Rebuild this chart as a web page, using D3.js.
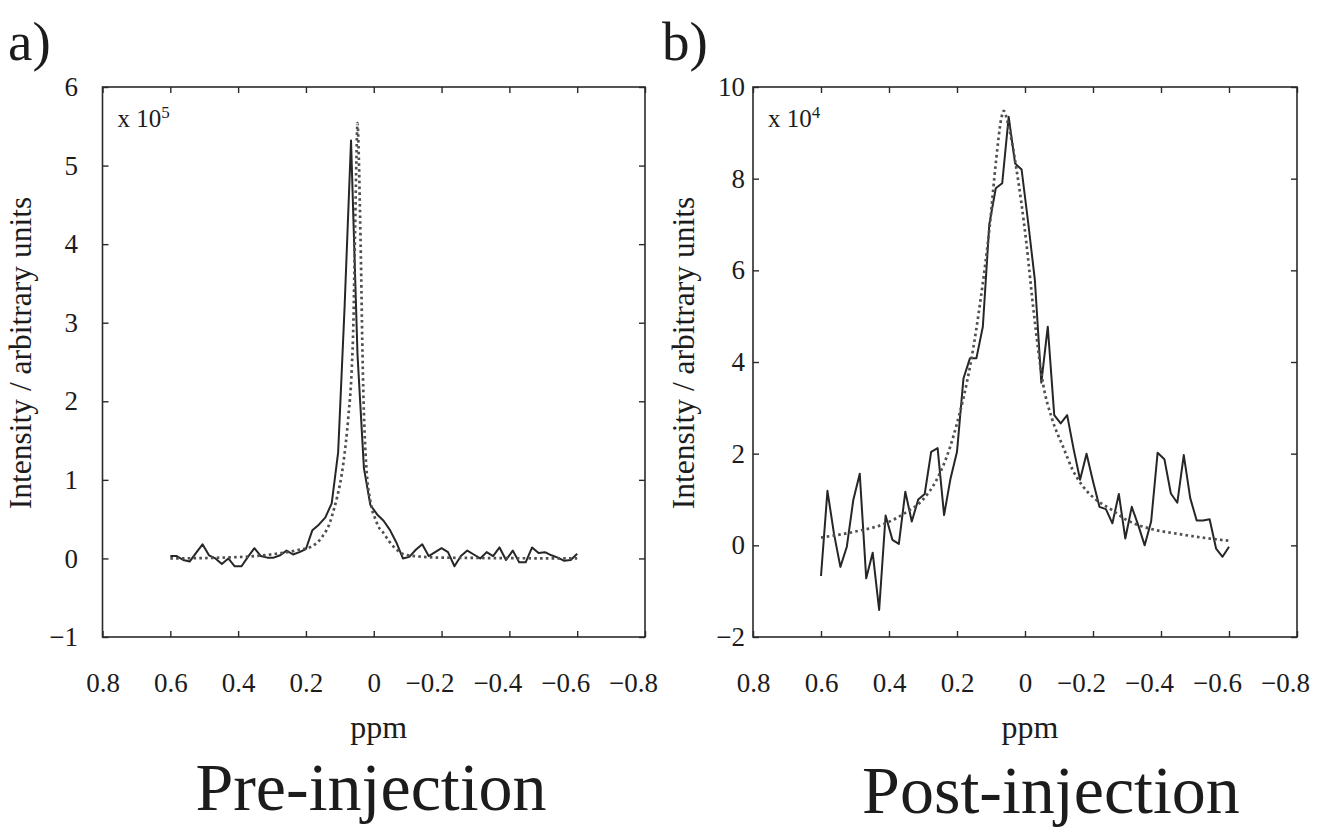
<!DOCTYPE html>
<html><head><meta charset="utf-8">
<script src="https://cdn.jsdelivr.net/npm/d3@7"></script>
<style>
body{margin:0;background:#fff;}
text{font-family:"Liberation Serif","Times New Roman",serif;fill:#1c1c1c;}
</style>
</head><body>
<svg id="chart" width="1317" height="831"></svg>
<script>
// ---------- data ----------
const ppm = [0.600,0.581,0.562,0.543,0.524,0.505,0.486,0.467,0.448,0.429,0.410,0.390,0.371,0.352,0.333,0.314,
  0.295,0.276,0.257,0.238,0.219,0.200,0.181,0.162,0.143,0.124,0.105,0.086,0.067,0.048,0.029,0.010,
  -0.010,-0.029,-0.048,-0.067,-0.086,-0.105,-0.124,-0.143,-0.162,-0.181,-0.200,-0.219,-0.238,-0.257,-0.276,-0.295,
  -0.314,-0.333,-0.352,-0.371,-0.390,-0.410,-0.429,-0.448,-0.467,-0.486,-0.505,-0.524,-0.543,-0.562,-0.581,-0.600];

const preIntensity = [0.03,0.03,-0.02,-0.04,0.07,0.18,0.04,0.00,-0.07,0.00,-0.10,-0.10,0.02,0.13,0.03,0.01,
  0.01,0.04,0.10,0.05,0.08,0.12,0.36,0.43,0.52,0.70,1.35,3.20,5.32,2.60,1.15,0.68,
  0.56,0.48,0.36,0.20,0.00,0.02,0.11,0.18,0.03,0.08,0.13,0.08,-0.10,0.03,0.10,0.05,
  0.00,0.08,0.03,0.14,-0.02,0.10,-0.05,-0.05,0.14,0.07,0.08,0.04,0.01,-0.03,-0.02,0.06];

const postIntensity = [-0.67,1.19,0.26,-0.47,-0.03,0.99,1.56,-0.72,-0.16,-1.41,0.65,0.12,0.03,1.17,0.52,1.00,
  1.12,2.04,2.12,0.66,1.46,2.04,3.64,4.08,4.08,4.77,7.00,7.79,7.90,9.35,8.33,8.20,
  7.00,5.79,3.55,4.77,2.84,2.66,2.84,2.10,1.43,2.00,1.40,0.84,0.79,0.48,1.12,0.15,
  0.84,0.44,0.00,0.52,2.02,1.88,1.13,0.93,1.97,1.03,0.54,0.54,0.57,-0.07,-0.25,-0.03];

const preFitPpm = [0.60,0.45,0.35,0.27,0.22,0.184,0.153,0.13,0.116,0.108,0.09,0.075,0.065,0.06,0.055,0.051,0.048,
  0.044,0.041,0.037,0.034,0.030,0.026,0.019,0.012,0.005,-0.005,-0.012,-0.026,-0.045,-0.068,-0.084,-0.12,-0.20,-0.60];
const preFit = [0.00,0.01,0.03,0.07,0.11,0.15,0.27,0.45,0.65,0.78,1.20,1.80,2.40,3.00,4.20,5.10,5.54,
  5.10,4.50,3.60,2.80,2.00,1.50,1.00,0.78,0.62,0.50,0.42,0.34,0.22,0.11,0.06,0.03,0.01,0.00];

const postFitPpm = [0.60,0.50,0.41,0.35,0.30,0.26,0.22,0.20,0.18,0.158,0.13,0.104,0.085,0.07,0.0626,0.05,0.025,
  -0.004,-0.024,-0.053,-0.08,-0.112,-0.14,-0.171,-0.20,-0.25,-0.30,-0.37,-0.45,-0.52,-0.60];
const postFit = [0.17,0.30,0.48,0.72,1.00,1.43,2.15,2.66,3.25,4.05,5.40,6.95,8.40,9.30,9.48,9.20,8.20,
  6.60,5.20,3.53,2.75,2.15,1.65,1.28,1.05,0.80,0.55,0.36,0.25,0.17,0.10];

const ppmTicks = [0.8,0.6,0.4,0.2,0,-0.2,-0.4,-0.6,-0.8];
const preYTicks = [-1,0,1,2,3,4,5,6];
const postYTicks = [-2,0,2,4,6,8,10];
const panelLetters = ["a)","b)"];
const panelTitles = ["Pre-injection","Post-injection"];
const scaleExponents = ["5","4"];
const yAxisLabel = "Intensity / arbitrary units";
const xAxisLabel = "ppm";

// ---------- layout ----------
const svg = d3.select("#chart");
const TOP = 87, BOTTOM = 637;
const panels = [
  {left:102.5, right:645, yDomain:[-1,6], yTicks:preYTicks, series:preIntensity, fitX:preFitPpm, fitY:preFit,
   letter:panelLetters[0], title:panelTitles[0], exp:scaleExponents[0], yPad:24.5, yLabelX:31, letterX:8, titleX:371, titleY:810},
  {left:753, right:1297, yDomain:[-2,10], yTicks:postYTicks, series:postIntensity, fitX:postFitPpm, fitY:postFit,
   letter:panelLetters[1], title:panelTitles[1], exp:scaleExponents[1], yPad:8, yLabelX:694, letterX:662, titleX:1051, titleY:813}
];

const fmtX = d => d === 0 ? "0" : (d < 0 ? "\u2212" : "") + Math.abs(d).toFixed(1);
const fmtY = d => (d < 0 ? "\u2212" : "") + Math.abs(d);

panels.forEach(p => {
  const x = d3.scaleLinear().domain([0.8,-0.8]).range([p.left,p.right]);
  const y = d3.scaleLinear().domain(p.yDomain).range([BOTTOM,TOP]);
  const g = svg.append("g");

  // inward ticks on all four sides
  const tickStyle = sel => { sel.select(".domain").remove(); sel.selectAll("line").attr("stroke","#2a2a2a").attr("stroke-width",1.4); sel.selectAll("text").remove(); };
  g.append("g").attr("transform",`translate(0,${BOTTOM})`).call(d3.axisBottom(x).tickValues(ppmTicks).tickSize(-6)).call(tickStyle);
  g.append("g").attr("transform",`translate(0,${TOP})`).call(d3.axisTop(x).tickValues(ppmTicks).tickSize(-6)).call(tickStyle);
  g.append("g").attr("transform",`translate(${p.left},0)`).call(d3.axisLeft(y).tickValues(p.yTicks).tickSize(-6)).call(tickStyle);
  g.append("g").attr("transform",`translate(${p.right},0)`).call(d3.axisRight(y).tickValues(p.yTicks).tickSize(-6)).call(tickStyle);

  // frame
  g.append("rect").attr("x",p.left).attr("y",TOP).attr("width",p.right-p.left).attr("height",BOTTOM-TOP)
    .attr("fill","none").attr("stroke","#2a2a2a").attr("stroke-width",1.6);

  // tick labels
  const xl = g.append("g").attr("transform",`translate(0,${BOTTOM})`)
    .call(d3.axisBottom(x).tickValues(ppmTicks).tickSize(0).tickPadding(36).tickFormat(fmtX));
  xl.select(".domain").remove();
  xl.selectAll("text").attr("font-size",27).attr("font-family","Liberation Serif").attr("fill","#1c1c1c")
    .attr("dx", d => d < 0 ? -12 : 0);
  const yl = g.append("g").attr("transform",`translate(${p.left},0)`)
    .call(d3.axisLeft(y).tickValues(p.yTicks).tickSize(0).tickPadding(p.yPad).tickFormat(fmtY));
  yl.select(".domain").remove();
  yl.selectAll("text").attr("font-size",27).attr("font-family","Liberation Serif").attr("fill","#1c1c1c");

  // data lines
  const solid = d3.line().x((d,i) => x(ppm[i])).y(d => y(d));
  g.append("path").datum(p.series).attr("d",solid).attr("fill","none")
    .attr("stroke","#262626").attr("stroke-width",2).attr("stroke-linejoin","round");
  const fit = d3.line().x((d,i) => x(p.fitX[i])).y(d => y(d)).curve(d3.curveMonotoneX);
  g.append("path").datum(p.fitY).attr("d",fit).attr("fill","none")
    .attr("stroke","#505050").attr("stroke-width",2.7).attr("stroke-dasharray","2.6,3.2");

  // exponent annotation
  const ex = g.append("text").attr("x",p.left+15).attr("y",127).attr("font-size",25);
  ex.append("tspan").text("x 10");
  ex.append("tspan").attr("font-size",17).attr("dy",-9).text(p.exp);

  // axis titles
  g.append("text").attr("transform",`translate(${p.yLabelX},353) rotate(-90)`).attr("text-anchor","middle")
    .attr("font-size",31.5).text(yAxisLabel);
  g.append("text").attr("x",(p.left+p.right)/2+5).attr("y",738).attr("text-anchor","middle")
    .attr("font-size",32).text(xAxisLabel);

  // panel letter and title
  g.append("text").attr("x",p.letterX).attr("y",60).attr("font-size",55).text(p.letter);
  g.append("text").attr("x",p.titleX).attr("y",p.titleY).attr("text-anchor","middle")
    .attr("font-size",68).text(p.title);
});
</script>
</body></html>
